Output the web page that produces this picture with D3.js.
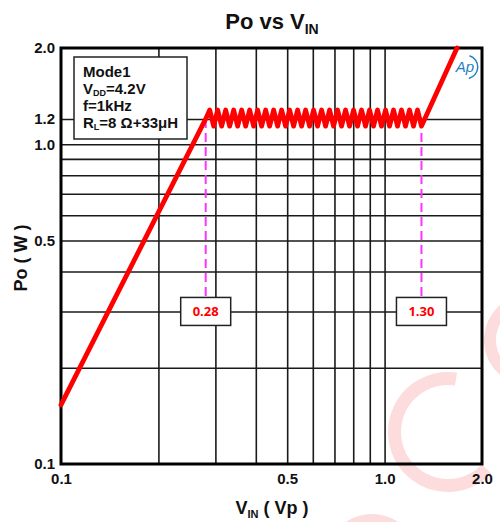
<!DOCTYPE html>
<html><head><meta charset="utf-8">
<script src="https://cdn.jsdelivr.net/npm/d3@7"></script>
<style>body{margin:0;background:#fff}</style>
</head><body><svg id="c" width="500" height="522"></svg>
<script>
// ---- data ----
const xGridValues = [0.2, 0.3, 0.4, 0.5, 0.6, 0.7, 0.8, 0.9, 1.0];
const yGridValues = [0.2, 0.3, 0.4, 0.5, 0.6, 0.7, 0.8, 0.9, 1.0, 1.2];
const xTickLabels = [0.1, 0.5, 1.0, 2.0];
const yTickLabels = [0.1, 0.5, 1.0, 1.2, 2.0];
const curveV = [0.1, 0.28,
  0.2881, 0.2964, 0.3049, 0.3137, 0.3228, 0.3321, 0.3417, 0.3515, 0.3617, 0.3721,
  0.3828, 0.3939, 0.4052, 0.4169, 0.4290, 0.4413, 0.4541, 0.4672, 0.4806, 0.4945,
  0.5088, 0.5234, 0.5385, 0.5541, 0.5701, 0.5865, 0.6034, 0.6208, 0.6387, 0.6572,
  0.6761, 0.6956, 0.7157, 0.7363, 0.7576, 0.7794, 0.8019, 0.8250, 0.8488, 0.8733,
  0.8985, 0.9244, 0.9511, 0.9785, 1.0067, 1.0358, 1.0657, 1.0964, 1.1280, 1.1606,
  1.1941, 1.2285, 1.2640, 1.3004,
  1.674];
const curveP = [0.153, 1.20,
  1.28, 1.14, 1.28, 1.14, 1.28, 1.14, 1.28, 1.14, 1.28, 1.14,
  1.28, 1.14, 1.28, 1.14, 1.28, 1.14, 1.28, 1.14, 1.28, 1.14,
  1.28, 1.14, 1.28, 1.14, 1.28, 1.14, 1.28, 1.14, 1.28, 1.14,
  1.28, 1.14, 1.28, 1.14, 1.28, 1.14, 1.28, 1.14, 1.28, 1.14,
  1.28, 1.14, 1.28, 1.14, 1.28, 1.14, 1.28, 1.14, 1.28, 1.14,
  1.28, 1.14, 1.28, 1.14,
  2.0];
const markerV = [0.28, 1.30];
const markerLabels = ["0.28", "1.30"];
const markerTopP = 1.2;
const markerBoxP = 0.3;

// ---- layout ----
const svg = d3.select("#c");
const L = 61, R = 482, T = 48, B = 464;
const x = d3.scaleLog().domain([0.1, 2.0]).range([L, R]);
const y = d3.scaleLog().domain([0.1, 2.0]).range([B, T]);
const FONT = "'Liberation Sans', Arial, sans-serif";

// watermark
const wm = svg.append("g").attr("fill", "#fcdcdc");
wm.append("path").attr("transform", "translate(448,432)")
  .attr("d", d3.arc()({innerRadius: 47, outerRadius: 60, startAngle: -3.95, endAngle: 0.15}));
wm.append("path").attr("transform", "translate(530,340)")
  .attr("d", d3.arc()({innerRadius: 34, outerRadius: 46, startAngle: -3.7, endAngle: -0.5}));
wm.append("path").attr("transform", "translate(372,560)")
  .attr("d", d3.arc()({innerRadius: 34, outerRadius: 46, startAngle: -0.6, endAngle: 0.6}));

// grid
const gx = svg.append("g").attr("transform", `translate(0,${B})`)
  .call(d3.axisBottom(x).tickValues(xGridValues).tickSize(-(B - T)).tickFormat(""));
const gy = svg.append("g").attr("transform", `translate(${L},0)`)
  .call(d3.axisLeft(y).tickValues(yGridValues).tickSize(-(R - L)).tickFormat(""));
[gx, gy].forEach(g => {
  g.select(".domain").remove();
  g.selectAll("line").attr("stroke", "#1a1a1a").attr("stroke-width", 1.6);
});

// tick labels
const ax = svg.append("g").attr("transform", `translate(0,${B})`)
  .call(d3.axisBottom(x).tickValues(xTickLabels).tickSize(0).tickPadding(9).tickFormat(d3.format(".1f")));
const ay = svg.append("g").attr("transform", `translate(${L},0)`)
  .call(d3.axisLeft(y).tickValues(yTickLabels).tickSize(0).tickPadding(6).tickFormat(d3.format(".1f")));
[ax, ay].forEach(g => {
  g.select(".domain").remove();
  g.selectAll("text").attr("font-family", FONT).attr("font-weight", "bold")
    .attr("font-size", 15).attr("fill", "#111");
});

// frame
svg.append("rect").attr("x", L).attr("y", T).attr("width", R - L).attr("height", B - T)
  .attr("fill", "none").attr("stroke", "#000").attr("stroke-width", 3);

// marker dashed lines and boxes
markerV.forEach((v, i) => {
  const cx = x(v), cy = y(markerBoxP);
  svg.append("line").attr("x1", cx).attr("x2", cx).attr("y1", y(markerTopP)).attr("y2", cy - 14)
    .attr("stroke", "#ff33ff").attr("stroke-width", 2).attr("stroke-dasharray", "9,5");
  svg.append("rect").attr("x", cx - 25).attr("y", cy - 14).attr("width", 50).attr("height", 28)
    .attr("fill", "#fff").attr("stroke", "#222").attr("stroke-width", 1.5);
  svg.append("text").attr("x", cx).attr("y", cy + 5).attr("text-anchor", "middle")
    .attr("font-family", "'Open Sans', sans-serif").attr("font-weight", "bold").attr("font-size", 13)
    .attr("fill", "#ff0000").text(markerLabels[i]);
});

// curve
const pts = curveV.map((v, i) => [v, curveP[i]]);
svg.append("path").datum(pts)
  .attr("d", d3.line().x(d => x(d[0])).y(d => y(d[1])))
  .attr("fill", "none").attr("stroke", "#ff0000").attr("stroke-width", 4.8)
  .attr("stroke-linejoin", "round").attr("stroke-linecap", "round");

// legend
svg.append("rect").attr("x", 74).attr("y", 57).attr("width", 113).attr("height", 82)
  .attr("fill", "#fff").attr("stroke", "#222").attr("stroke-width", 1.5);
const lg = svg.append("text").attr("font-family", FONT).attr("font-weight", "bold")
  .attr("font-size", 15).attr("fill", "#111");
lg.append("tspan").attr("x", 83).attr("y", 77).text("Mode1");
lg.append("tspan").attr("x", 83).attr("y", 94).text("V");
lg.append("tspan").attr("dy", 2).attr("font-size", 9).text("DD");
lg.append("tspan").attr("dy", -2).text("=4.2V");
lg.append("tspan").attr("x", 83).attr("y", 111).text("f=1kHz");
lg.append("tspan").attr("x", 83).attr("y", 128).text("R");
lg.append("tspan").attr("dy", 2).attr("font-size", 9).text("L");
lg.append("tspan").attr("dy", -2).text("=8 Ω+33μH");

// title
const tt = svg.append("text").attr("x", 272).attr("y", 29).attr("text-anchor", "middle")
  .attr("font-family", FONT).attr("font-weight", "bold").attr("font-size", 22).attr("fill", "#111");
tt.append("tspan").text("Po vs V");
tt.append("tspan").attr("dy", 5).attr("font-size", 14).text("IN");

// axis titles
const xt = svg.append("text").attr("x", 272).attr("y", 514).attr("text-anchor", "middle")
  .attr("font-family", FONT).attr("font-weight", "bold").attr("font-size", 18).attr("fill", "#111");
xt.append("tspan").text("V");
xt.append("tspan").attr("dy", 4).attr("font-size", 11).text("IN");
xt.append("tspan").attr("dy", -4).text(" ( Vp )");
svg.append("text").attr("transform", "translate(27,258) rotate(-90)").attr("text-anchor", "middle")
  .attr("font-family", FONT).attr("font-weight", "bold").attr("font-size", 18).attr("fill", "#111")
  .text("Po ( W )");

// Ap logo
const logo = svg.append("g").attr("transform", "translate(466,67)");
logo.append("path").attr("d", d3.arc()({innerRadius: 11, outerRadius: 12.5, startAngle: 0.3, endAngle: 2.9}))
  .attr("fill", "#1f7fc4");
logo.append("text").attr("x", -1).attr("y", 5).attr("text-anchor", "middle")
  .attr("font-family", FONT).attr("font-style", "italic").attr("font-size", 15)
  .attr("fill", "#1f7fc4").text("Ap");
</script></body></html>
